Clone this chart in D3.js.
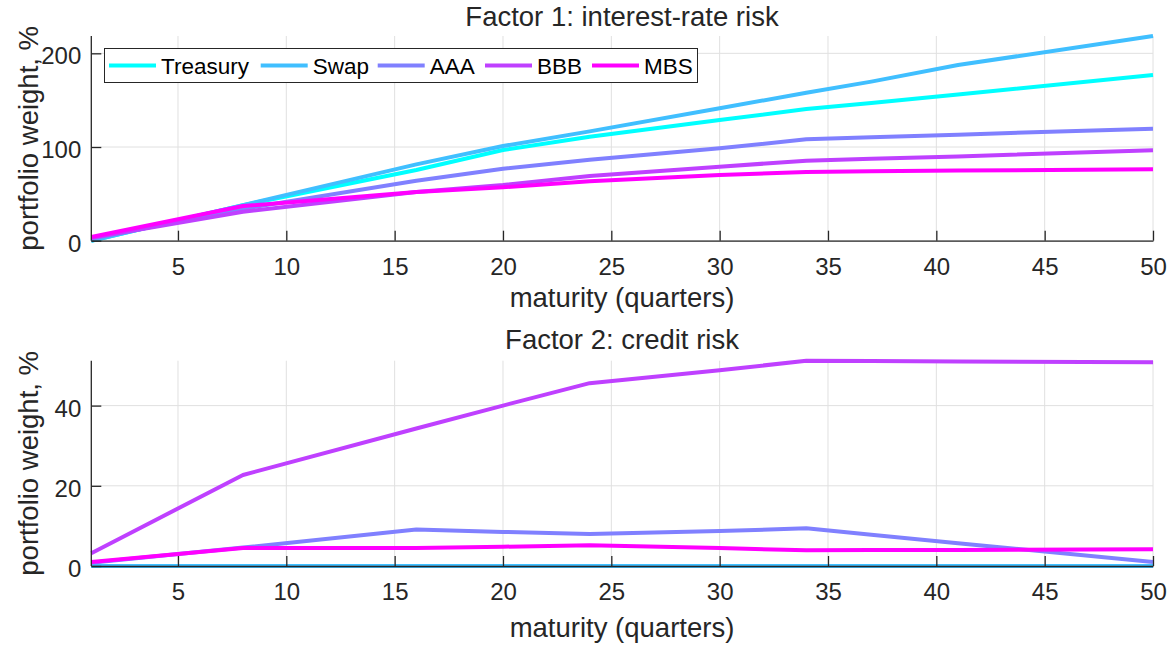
<!DOCTYPE html>
<html lang="en">
<head>
<meta charset="utf-8" />
<title>Factor portfolio weights</title>
<style>
  html,body{margin:0;background:#fff;}
  svg{display:block;font-family:"Liberation Sans",Arial,Helvetica,sans-serif;}
  .tick text,.lbl{fill:#262626;}
</style>
</head>
<body>
<svg id="chart" width="1175" height="648"></svg>
<script src="https://d3js.org/d3.v7.min.js"></script>
<script>
// ---- data ----
const maturity = [1, 8, 16, 20, 24, 30, 34, 37, 41, 50];
const seriesNames = ['Treasury', 'Swap', 'AAA', 'BBB', 'MBS'];
const seriesColors = ['#00ffff', '#40bfff', '#8080ff', '#bf40ff', '#ff00ff'];

// factor 1: interest-rate risk
const f1Treasury = [0, 38, 75.5, 96.8, 111, 128.8, 140.5, 147, 156, 176.8];
const f1Swap     = [0, 38, 81.5, 101, 116.7, 141.3, 158, 169.8, 187.5, 218.5];
const f1AAA      = [2, 34, 64, 76.8, 86.5, 98.6, 108.2, 110.3, 113.2, 119.6];
const f1BBB      = [3, 31, 52, 59.4, 69, 79, 85.4, 87.5, 90, 96.5];
const f1MBS      = [4, 37, 52, 57, 63.5, 70.1, 73.3, 74, 74.8, 76.2];

// factor 2: credit risk
const f2Treasury = [0, 0, 0, 0, 0, 0, 0, 0, 0, 0];
const f2Swap     = [0, 0, 0, 0, 0, 0, 0, 0, 0, 0];
const f2AAA      = [0.8, 4.6, 9.1, 8.5, 8.0, 8.7, 9.4, 7.8, 5.7, 1.0];
const f2BBB      = [3.2, 22.7, 34.3, 40, 45.6, 48.8, 51.2, 51.1, 51.0, 50.8];
const f2MBS      = [1.0, 4.5, 4.5, 4.8, 5.2, 4.5, 3.9, 4.0, 4.0, 4.2];

const xTicks = [5, 10, 15, 20, 25, 30, 35, 40, 45, 50];

const svg = d3.select('#chart');
const TICK_FS = 24, LABEL_FS = 27.5, LEG_FS = 22.5;

function drawPanel(p){
  const g = svg.append('g');
  const x = d3.scaleLinear().domain([1, 50]).range([91.3, 1153]);
  const y = d3.scaleLinear().domain(p.yDomain).range([p.bottom, p.top]);

  // grid
  g.append('g').selectAll('line').data(xTicks).join('line')
    .attr('x1', d => x(d)).attr('x2', d => x(d)).attr('y1', p.top).attr('y2', p.bottom)
    .attr('stroke', '#e0e0e0').attr('stroke-width', 1);
  g.append('g').selectAll('line').data(p.yTicks).join('line')
    .attr('x1', x(1)).attr('x2', x(50)).attr('y1', d => y(d)).attr('y2', d => y(d))
    .attr('stroke', '#e0e0e0').attr('stroke-width', 1);

  // lines
  const line = d3.line().x((d, i) => x(maturity[i])).y(d => y(d));
  p.series.forEach((s, i) => {
    g.append('path').datum(s).attr('d', line).attr('fill', 'none')
      .attr('stroke', seriesColors[i]).attr('stroke-width', 4)
      .attr('stroke-linejoin', 'round');
  });

  // axes (ticks inward, box off)
  const xa = g.append('g').attr('transform', `translate(0,${p.bottom})`)
    .call(d3.axisBottom(x).tickValues(xTicks).tickSizeInner(-10).tickSizeOuter(0).tickPadding(17));
  const ya = g.append('g').attr('transform', `translate(${x(1)},0)`)
    .call(d3.axisLeft(y).tickValues(p.yTicks).tickSizeInner(-10).tickSizeOuter(0).tickPadding(10));
  [xa, ya].forEach(a => {
    a.select('.domain').attr('stroke', '#262626').attr('stroke-width', 1.3);
    a.selectAll('.tick line').attr('stroke', '#262626').attr('stroke-width', 1.3);
    a.selectAll('.tick text').style('font-size', TICK_FS + 'px').attr('fill', '#262626');
  });
  ya.selectAll('.tick text').attr('dy', '0.44em');
  ya.select('.domain').attr('d', `M0,${p.bottom}V${p.top}`);

  // texts
  g.append('text').attr('class', 'lbl').attr('x', 622).attr('y', p.titleY)
    .attr('text-anchor', 'middle').style('font-size', LABEL_FS + 'px').text(p.title);
  g.append('text').attr('class', 'lbl').attr('x', 622).attr('y', p.xLabelY)
    .attr('text-anchor', 'middle').style('font-size', LABEL_FS + 'px').text('maturity (quarters)');
  g.append('text').attr('class', 'lbl')
    .attr('transform', `translate(38,${(p.top + p.bottom) / 2}) rotate(-90)`)
    .attr('text-anchor', 'middle').style('font-size', LABEL_FS + 'px').text('portfolio weight, %');
  return g;
}

drawPanel({
  title: 'Factor 1: interest-rate risk', titleY: 26, xLabelY: 307,
  top: 36, bottom: 240.7, yDomain: [0, 218.5], yTicks: [0, 100, 200],
  series: [f1Treasury, f1Swap, f1AAA, f1BBB, f1MBS]
});
drawPanel({
  title: 'Factor 2: credit risk', titleY: 349, xLabelY: 637,
  top: 360.7, bottom: 566, yDomain: [0, 51.2], yTicks: [0, 20, 40],
  series: [f2Treasury, f2Swap, f2AAA, f2BBB, f2MBS]
});

// legend
const leg = svg.append('g');
leg.append('rect').attr('x', 104.5).attr('y', 48.5).attr('width', 593).attr('height', 34)
  .attr('fill', '#fff').attr('stroke', '#262626').attr('stroke-width', 1);
const legX = [109, 260.7, 377.7, 485, 592];
seriesNames.forEach((n, i) => {
  leg.append('line').attr('x1', legX[i]).attr('x2', legX[i] + 47).attr('y1', 65.5).attr('y2', 65.5)
    .attr('stroke', seriesColors[i]).attr('stroke-width', 4);
  leg.append('text').attr('x', legX[i] + 52).attr('y', 65.5).attr('dy', '0.36em')
    .style('font-size', LEG_FS + 'px').attr('fill', '#000').text(n);
});
</script>
</body>
</html>
